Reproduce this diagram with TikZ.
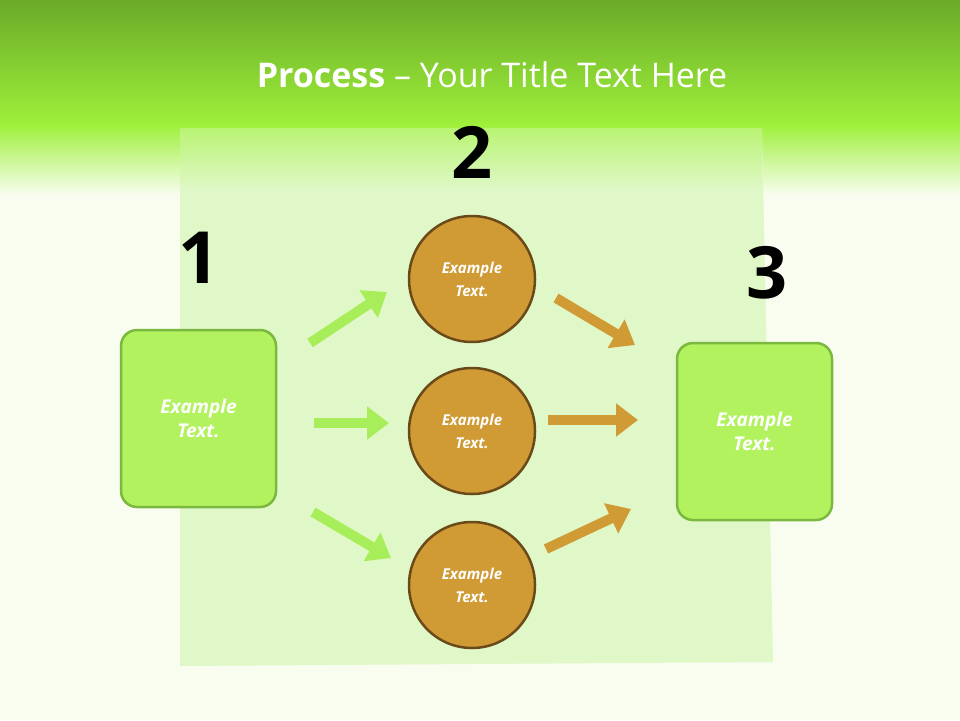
\documentclass[tikz,border=0pt]{standalone}
\usepackage{fontspec}
\setmainfont{Open Sans}
\usetikzlibrary{arrows.meta}
\definecolor{bg}{HTML}{F8FDF0}
\definecolor{topg}{HTML}{6AAA28}
\definecolor{midg}{HTML}{9EF03A}
\definecolor{panel}{HTML}{E0F8C8}
\definecolor{boxf}{HTML}{B2F25E}
\definecolor{boxd}{HTML}{7AB840}
\definecolor{orf}{HTML}{D09A35}
\definecolor{ord}{HTML}{6A4A18}
\definecolor{garr}{HTML}{A8EE5A}
\tikzset{
  box/.style={draw=boxd,line width=2.5pt,fill=boxf,rounded corners=16pt,minimum width=155pt,minimum height=177pt,text=white,font=\bfseries\itshape\fontsize{19}{24}\selectfont,align=center},
  circ/.style={circle,draw=ord,line width=2.5pt,fill=orf,minimum size=126pt,text=white,font=\bfseries\itshape\fontsize{15}{23}\selectfont,align=center},
  num/.style={font=\bfseries\fontsize{72}{72}\selectfont,text=black},
  garrow/.style={draw=garr,line width=10pt,-{Triangle[length=22pt,width=32pt]}},
  oarrow/.style={draw=orf,line width=10pt,-{Triangle[length=22pt,width=32pt]}}
}
\begin{document}
\begin{tikzpicture}[x=1pt,y=-1pt]
\useasboundingbox (0,0) rectangle (960,720);
\fill[bg] (0,0) rectangle (960,720);
\shade[top color=topg,bottom color=midg] (0,0) rectangle (960,125);
\shade[top color=midg,bottom color=bg] (0,124) rectangle (960,195);
\fill[panel] (180,130) -- (762,130) -- (773,662) -- (180,666) -- cycle;
\shade[top color=midg!60!panel,bottom color=panel] (180,128) rectangle (762,190);
\node[text=white,font=\fontsize{34}{40}\selectfont] (title) at (492,75) {\textbf{Process} -- Your Title Text Here};
\node[num] (n1) at (199,258) {1};
\node[num] (n2) at (472,152) {2};
\node[num] (n3) at (767,273) {3};
\node[box] (b1) at (198.5,418.5) {Example\\Text.};
\node[box] (b3) at (754.5,431.5) {Example\\Text.};
\node[circ] (c1) at (472,279) {Example\\Text.};
\node[circ] (c2) at (472,431) {Example\\Text.};
\node[circ] (c3) at (472,585) {Example\\Text.};
\coordinate (g1s) at (310,343); \coordinate (g1e) at (387,292);
\coordinate (g2s) at (314,423); \coordinate (g2e) at (389,423);
\coordinate (g3s) at (313,512); \coordinate (g3e) at (391,558);
\coordinate (o1s) at (556,298); \coordinate (o1e) at (635,345);
\coordinate (o2s) at (548,420); \coordinate (o2e) at (638,420);
\coordinate (o3s) at (546,549); \coordinate (o3e) at (631,509);
\draw[garrow] (g1s) -- (g1e);
\draw[garrow] (g2s) -- (g2e);
\draw[garrow] (g3s) -- (g3e);
\draw[oarrow] (o1s) -- (o1e);
\draw[oarrow] (o2s) -- (o2e);
\draw[oarrow] (o3s) -- (o3e);
\end{tikzpicture}
\end{document}
